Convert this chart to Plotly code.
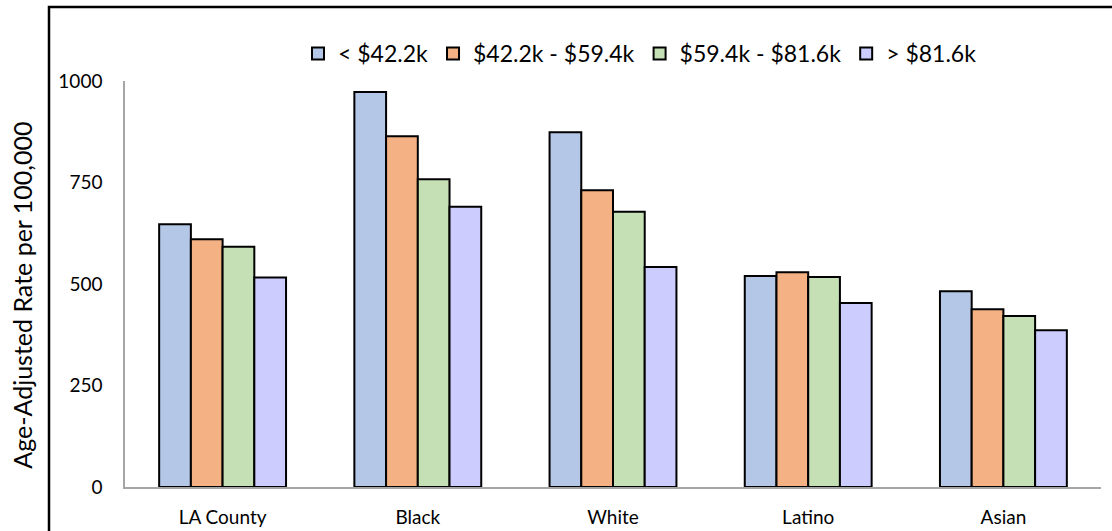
import plotly.graph_objects as go

categories = ["LA County", "Black", "White", "Latino", "Asian"]
series_names = ["< $42.2k", "$42.2k - $59.4k", "$59.4k - $81.6k", "> $81.6k"]
low = [647, 973, 874, 520, 482]
mid_low = [610, 864, 731, 529, 438]
mid_high = [592, 758, 678, 517, 421]
high = [516, 690, 542, 453, 386]
colors = ["#B4C7E7", "#F4B183", "#C5E0B4", "#CCCCFF"]
y_ticks = [0, 250, 500, 750, 1000]
y_title = "Age-Adjusted Rate per 100,000"

FONT = "Lato"
fig = go.Figure()
for name, vals, col in zip(series_names, [low, mid_low, mid_high, high], colors):
    fig.add_trace(go.Bar(
        x=categories, y=vals, name=name,
        marker=dict(color=col, line=dict(color="black", width=2)),
    ))

W, H = 1112, 531
L, R, T, B = 125, 11, 81, 43.5
pw, ph = W - L - R, H - T - B

fig.update_layout(
    width=W, height=H,
    margin=dict(l=L, r=R, t=T, b=B, pad=0, autoexpand=False),
    paper_bgcolor="white", plot_bgcolor="white",
    barmode="group", bargap=0.35, bargroupgap=0,
    font=dict(family=FONT, color="black"),
    legend=dict(
        orientation="h", x=(298 - L) / pw, xanchor="left",
        y=1 + (T - 32) / ph, yanchor="top",
        font=dict(size=23, family=FONT, color="black"),
        itemwidth=30, traceorder="normal", bgcolor="rgba(0,0,0,0)",
    ),
    showlegend=True,
    shapes=[dict(
        type="rect", xref="paper", yref="paper",
        x0=(49 - L) / pw, x1=1.2, y0=-0.3, y1=1 + (T - 7) / ph,
        line=dict(color="black", width=2.5), fillcolor="rgba(0,0,0,0)", layer="below",
    )],
    annotations=[dict(
        text=y_title, textangle=-90, xref="paper", yref="paper",
        x=(22 - L) / pw, y=1 - (296 - T) / ph, xanchor="center", yanchor="middle",
        showarrow=False, font=dict(size=25, family=FONT, color="black"),
    )],
)
fig.update_xaxes(
    automargin=False,
    showline=True, linecolor="#A6A6A6", linewidth=1.5, showgrid=False,
    ticks="", tickfont=dict(size=19, family=FONT, color="black"),
    ticklabelstandoff=12,
)
fig.update_yaxes(
    automargin=False,
    range=[0, 1000], tickvals=y_ticks, showline=True, linecolor="#A6A6A6", linewidth=1.5,
    showgrid=False, zeroline=False, ticks="",
    tickfont=dict(size=19, family=FONT, color="black"), ticklabelstandoff=17,
)
fig.write_html("out.html")
